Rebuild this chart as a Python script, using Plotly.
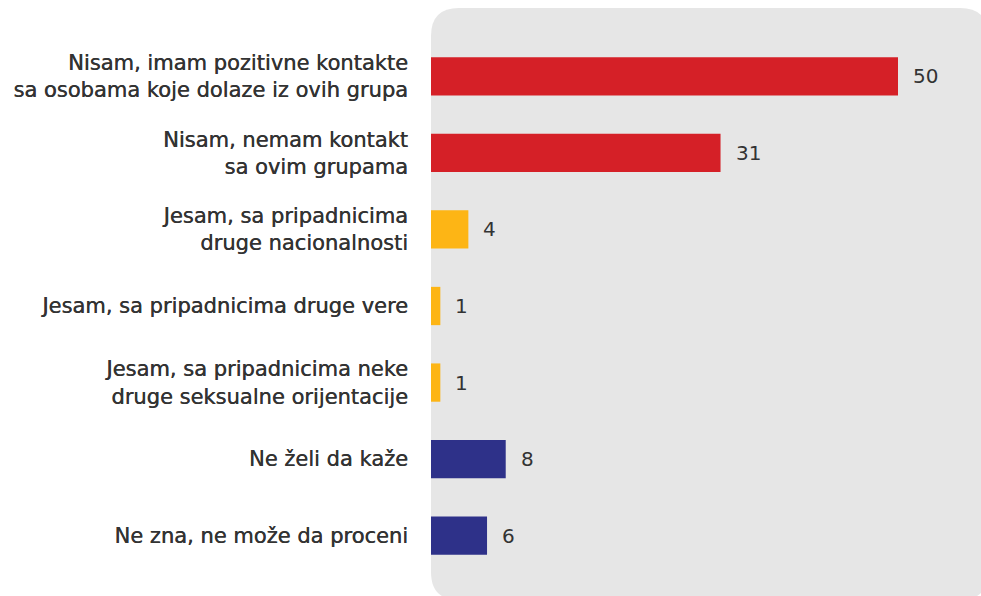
import plotly.graph_objects as go

categories = [
    "Nisam, imam pozitivne kontakte<br>sa osobama koje dolaze iz ovih grupa",
    "Nisam, nemam kontakt<br>sa ovim grupama",
    "Jesam, sa pripadnicima<br>druge nacionalnosti",
    "Jesam, sa pripadnicima druge vere",
    "Jesam, sa pripadnicima neke<br>druge seksualne orijentacije",
    "Ne želi da kaže",
    "Ne zna, ne može da proceni",
]
values = [50, 31, 4, 1, 1, 8, 6]
colors = ["#D52027", "#D52027", "#FDB515", "#FDB515", "#FDB515", "#2E3189", "#2E3189"]

W, H = 981, 596
L, R, T, B = 431, 0, 38, 22
pw = W - L - R
ph = H - T - B

def px(x):
    return (x - L) / pw

def py(y):
    return (H - B - y) / ph

# panel (rounded rectangle) in paper coordinates
x0, x1, y0, y1, r = 431, 988, 8, 600, 28
path = (
    f"M {px(x0)},{py(y0 + r)} "
    f"Q {px(x0)},{py(y0)} {px(x0 + r)},{py(y0)} "
    f"L {px(x1 - r)},{py(y0)} "
    f"Q {px(x1)},{py(y0)} {px(x1)},{py(y0 + r)} "
    f"L {px(x1)},{py(y1 - r)} "
    f"Q {px(x1)},{py(y1)} {px(x1 - r)},{py(y1)} "
    f"L {px(x0 + r)},{py(y1)} "
    f"Q {px(x0)},{py(y1)} {px(x0)},{py(y1 - r)} Z"
)

fig = go.Figure(
    go.Bar(
        x=values,
        y=categories,
        orientation="h",
        marker=dict(color=colors, line=dict(width=0)),
        hoverinfo="skip",
    )
)

for c, v in zip(categories, values):
    fig.add_annotation(
        x=v, y=c, xref="x", yref="y", text=str(v), showarrow=False,
        xanchor="left", xshift=13,
        font=dict(family="DejaVu Sans, sans-serif", size=20, color="#333333"),
    )

fig.update_layout(
    width=W, height=H,
    margin=dict(l=L, r=R, t=T, b=B, pad=0),
    paper_bgcolor="white",
    plot_bgcolor="rgba(0,0,0,0)",
    bargap=0.5,
    showlegend=False,
    shapes=[dict(type="path", path=path, xref="paper", yref="paper",
                 fillcolor="#E6E6E6", line=dict(width=0), layer="below")],
    xaxis=dict(range=[0, pw / 9.34], showgrid=False, zeroline=False,
               showticklabels=False, fixedrange=True),
    yaxis=dict(autorange="reversed", showgrid=False, zeroline=False,
               ticks="", ticklabelstandoff=22, fixedrange=True,
               tickfont=dict(family="DejaVu Sans, sans-serif", size=21, color="#333333",
                             shadow="0.35px 0 0 #333333")),
)

fig.write_html(
    "out.html",
    config={"displayModeBar": False, "staticPlot": True},
    post_script="document.documentElement.style.overflow='hidden';"
                "document.body.style.margin='0';document.body.style.overflow='hidden';",
)
